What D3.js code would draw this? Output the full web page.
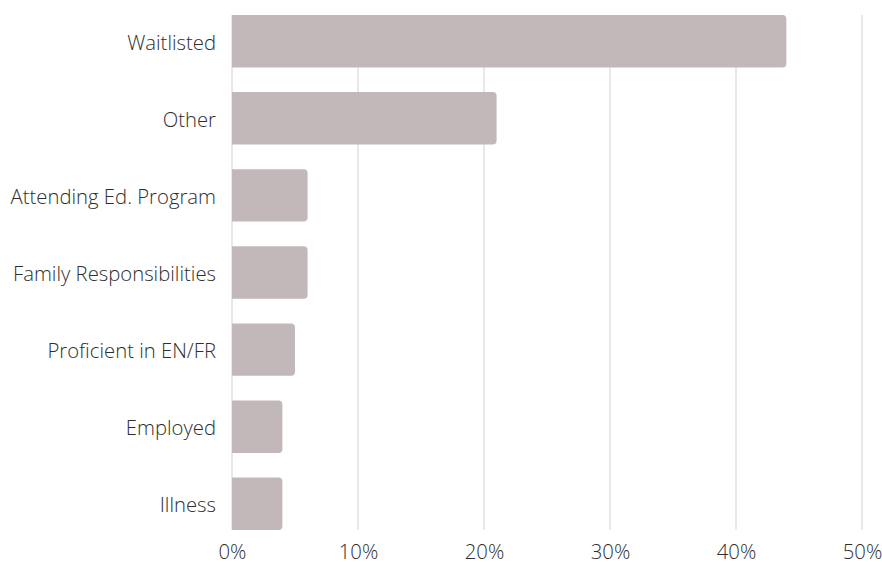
<!DOCTYPE html>
<html>
<head>
<meta charset="utf-8">
<script src="https://cdn.jsdelivr.net/npm/d3@7"></script>
<style>
  html, body { margin: 0; padding: 0; background: #fff; }
  svg text { font-family: "Open Sans", sans-serif; font-weight: 300; fill: #2e2e2e; }
</style>
</head>
<body>
<svg id="chart" width="882" height="562"></svg>
<script>
// Reasons reported, share of respondents (%)
const categories = ["Waitlisted", "Other", "Attending Ed. Program", "Family Responsibilities", "Proficient in EN/FR", "Employed", "Illness"];
const values = [44, 21, 6, 6, 5, 4, 4];
const tickValues = [0, 10, 20, 30, 40, 50];

const svg = d3.select("#chart");
const plotLeft = 232, plotRight = 862, plotTop = 15, plotBottom = 530;

const x = d3.scaleLinear().domain([0, 50]).range([plotLeft, plotRight]);
const y = d3.scaleBand().domain(categories).range([plotTop, plotBottom])
  .paddingInner(0.32).paddingOuter(0);

// vertical gridlines
svg.append("g").selectAll("line").data(tickValues).join("line")
  .attr("x1", d => x(d)).attr("x2", d => x(d))
  .attr("y1", plotTop).attr("y2", plotBottom)
  .attr("stroke", "#e0e0e0").attr("stroke-width", 1.5);

// bars with rounded right end, square left end
const r = 4;
svg.append("g").selectAll("path").data(categories).join("path")
  .attr("fill", "#c2b8b9")
  .attr("d", (c, i) => {
    const x0 = x(0), x1 = x(values[i]), y0 = y(c), h = y.bandwidth();
    return `M${x0},${y0}H${x1 - r}Q${x1},${y0} ${x1},${y0 + r}V${y0 + h - r}Q${x1},${y0 + h} ${x1 - r},${y0 + h}H${x0}Z`;
  });

// category labels
const yAxis = d3.axisLeft(y).tickSize(0).tickPadding(16);
svg.append("g").attr("transform", `translate(${plotLeft},2)`).call(yAxis)
  .call(g => g.select(".domain").remove())
  .selectAll("text").style("font-size", "20.3px");

// percentage axis
const xAxis = d3.axisBottom(x).tickValues(tickValues).tickFormat(d => d + "%").tickSize(0).tickPadding(15);
svg.append("g").attr("transform", `translate(0,${plotBottom})`).call(xAxis)
  .call(g => g.select(".domain").remove())
  .selectAll("text").style("font-size", "20.3px");
</script>
</body>
</html>
